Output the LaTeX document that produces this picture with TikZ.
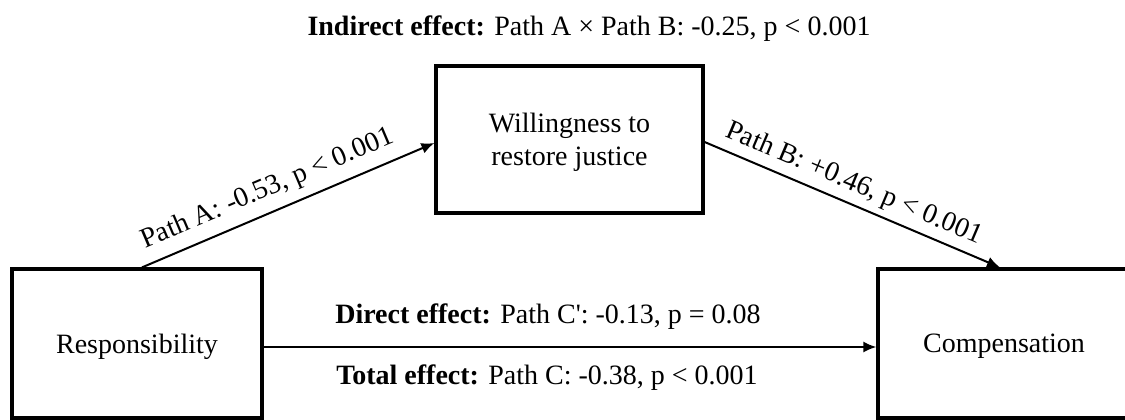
\documentclass[tikz,border=0pt]{standalone}
\usepackage{fontspec}
\setmainfont{Liberation Serif}
\usetikzlibrary{arrows.meta}
\begin{document}
\begin{tikzpicture}[x=1pt,y=-1pt,
  varbox/.style={draw=black, line width=3.2pt, fill=white, align=center,
    inner sep=0pt, text depth=0pt, font=\fontsize{28}{33}\selectfont},
  patharrow/.style={line width=2pt, -{Latex[length=13pt,width=11pt]}},
  coef/.style={font=\fontsize{28}{33}\selectfont, inner sep=3pt}]
\useasboundingbox (0,0) rectangle (1125,420);
\clip (0,0) rectangle (1125,420);

% variables
\node[varbox, minimum width=250pt, minimum height=149pt] (resp) at (137,343.5) {Responsibility};
\node[varbox, minimum width=267pt, minimum height=147pt] (will) at (569.5,139.5) {Willingness to\\restore justice};
\node[varbox, minimum width=252pt, minimum height=149pt] (comp) at (1004,343.5) {Compensation};

% paths
\draw[patharrow] ([xshift=5pt]resp.north) -- ([yshift=-3.5pt]will.west)
  node[coef, sloped, above=6pt, pos=0.46] (labA) {Path A: -0.53, p < 0.001};
\draw[patharrow] ([yshift=-2.5pt]will.east) -- ([xshift=-4pt]comp.north)
  node[coef, sloped, above=3pt, pos=0.48] (labB) {Path B: +0.46, p < 0.001};
\draw[patharrow] ([yshift=-3.5pt]resp.east) -- ([yshift=-3.5pt]resp.east -| comp.west);

% effect labels
\node[coef, anchor=base] (direct) at (548,323) {\textbf{Direct effect:} Path C\textquotesingle: -0.13, p = 0.08};
\node[coef, anchor=base] (total) at (547,384) {\textbf{Total effect:} Path C: -0.38, p < 0.001};
\node[coef, anchor=base] (indirect) at (589,36) {\textbf{Indirect effect:} Path A × Path B: -0.25, p < 0.001};
\end{tikzpicture}
\end{document}
